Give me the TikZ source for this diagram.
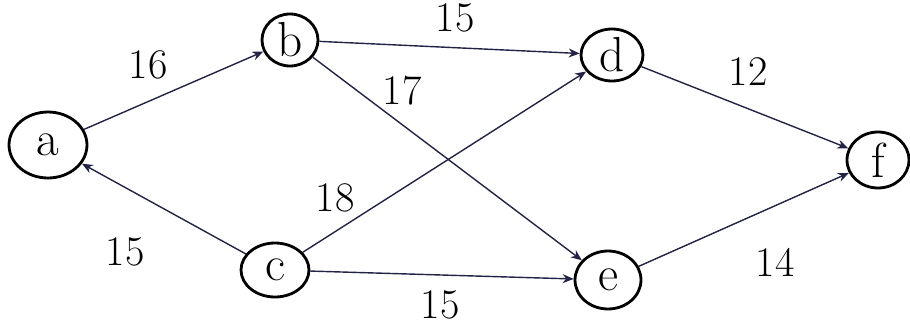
\documentclass[tikz,border=0pt]{standalone}
\usepackage{tikz}
\usetikzlibrary{arrows.meta,shapes.geometric}

\definecolor{inkline}{RGB}{35,35,70}

\begin{document}
\begin{tikzpicture}[
        x=0.02cm, y=0.02cm,
        font=\fontsize{24}{28}\selectfont,
        vtx/.style={draw, ellipse, line width=1.6pt, inner sep=0pt, font=\fontsize{28}{32}\selectfont},
        wt/.style={inner sep=1pt},
        arr/.style={-{Stealth[length=2.2mm, width=1.8mm]}, draw=inkline, line width=0.8pt}
    ]
        \useasboundingbox (0,0) rectangle (910,329);
        \node[vtx, minimum width=1.56cm, minimum height=1.32cm] (a) at (48,184) {a};
        \node[vtx, minimum width=1.12cm, minimum height=1.04cm] (b) at (290,289) {b};
        \node[vtx, minimum width=1.24cm, minimum height=1.04cm] (d) at (612,274) {d};
        \node[vtx, minimum width=1.24cm, minimum height=1.12cm] (f) at (878,169) {f};
        \node[vtx, minimum width=1.36cm, minimum height=1.08cm] (c) at (275,59) {c};
        \node[vtx, minimum width=1.32cm, minimum height=1.16cm] (e) at (608,49) {e};
        % weights
        \node[wt] (wab) at (148,264) {16};
        \node[wt] (wbd) at (455,311) {15};
        \node[wt] (wbe) at (402,238) {17};
        \node[wt] (wdf) at (748,257) {12};
        \node[wt] (wcd) at (335,131) {18};
        \node[wt] (wca) at (125,77) {15};
        \node[wt] (wce) at (440,24) {15};
        \node[wt] (wef) at (775,67) {14};
        % edges
        \draw[arr] (a) -- (b);
        \draw[arr] (c) -- (a);
        \draw[arr] (b) -- (d);
        \draw[arr] (b) -- (e);
        \draw[arr] (c) -- (d);
        \draw[arr] (c) -- (e);
        \draw[arr] (d) -- (f);
        \draw[arr] (e) -- (f);
    \end{tikzpicture}
\end{document}
